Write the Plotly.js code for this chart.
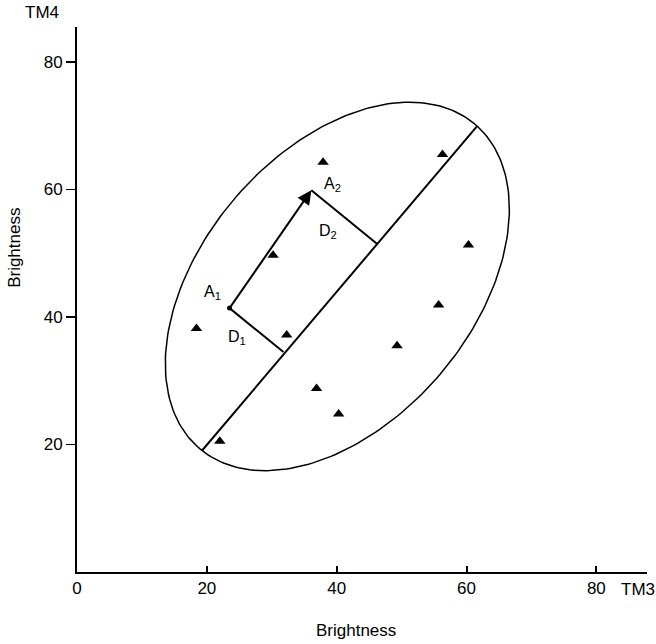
<!DOCTYPE html>
<html>
<head>
<meta charset="utf-8">
<script src="https://cdn.plot.ly/plotly-3.0.1.min.js"></script>
<style>html,body{margin:0;padding:0;background:#fff;}#chart{width:656px;height:644px;}</style>
</head>
<body>
<div id="chart"></div>
<script>
// ---- data ----
const tm3Values = [37.9, 30.2, 18.4, 32.3, 22.0, 36.9, 40.3, 49.3, 55.7, 60.3, 56.3];
const tm4Values = [64.3, 49.7, 38.2, 37.2, 20.5, 28.8, 24.8, 35.5, 41.9, 51.3, 65.5];
const pointA1 = [23.5, 41.4];
const pointA2 = [36.1, 59.9];
const axisStart = [19.3, 19.1];
const axisEnd = [61.6, 69.9];
const footD1 = [31.8, 34.5];
const footD2 = [46.2, 51.5];
const ellipseCenter = [40.1, 44.8];
const ellipseMajor = [21.2, 25.45];
const ellipseMinor = [-15.9, 13.7];
const xTicks = [0, 20, 40, 60, 80];
const yTicks = [20, 40, 60, 80];

// ellipse outline from its centre and semi-axis vectors
const ex = [], ey = [];
const N = 240;
for (let i = 0; i <= N; i++) {
  const t = 2 * Math.PI * i / N;
  ex.push(ellipseCenter[0] + ellipseMajor[0] * Math.cos(t) + ellipseMinor[0] * Math.sin(t));
  ey.push(ellipseCenter[1] + ellipseMajor[1] * Math.cos(t) + ellipseMinor[1] * Math.sin(t));
}

const FONT = 'Liberation Sans, Arial, Helvetica, sans-serif';

const traces = [
  {x: ex, y: ey, mode: 'lines', line: {color: '#000', width: 1.5}, hoverinfo: 'skip'},
  {x: [axisStart[0], axisEnd[0]], y: [axisStart[1], axisEnd[1]], mode: 'lines', line: {color: '#000', width: 2}},
  {x: [pointA1[0], footD1[0]], y: [pointA1[1], footD1[1]], mode: 'lines', line: {color: '#000', width: 2}},
  {x: [pointA2[0], footD2[0]], y: [pointA2[1], footD2[1]], mode: 'lines', line: {color: '#000', width: 2}},
  {x: [pointA1[0]], y: [pointA1[1]], mode: 'markers', marker: {symbol: 'circle', size: 5, color: '#000'}},
  {x: tm3Values, y: tm4Values, mode: 'markers', marker: {symbol: 'triangle-up', size: 10, color: '#000'}}
];

function segMid(a, b) { return [(a[0] + b[0]) / 2, (a[1] + b[1]) / 2]; }
const midD1 = segMid(pointA1, footD1);
const midD2 = segMid(pointA2, footD2);

const labelFont = {family: FONT, size: 16, color: '#000'};
const outerFont = {family: FONT, size: 17, color: '#000'};
const annotations = [
  {x: pointA2[0], y: pointA2[1], ax: pointA1[0], ay: pointA1[1], xref: 'x', yref: 'y', axref: 'x', ayref: 'y',
   text: '', showarrow: true, arrowhead: 2, arrowsize: 1.4, arrowwidth: 2, arrowcolor: '#000', standoff: 0},
  {x: pointA1[0], y: pointA1[1], xref: 'x', yref: 'y', text: 'A<sub>1</sub>', showarrow: false, xshift: -17, yshift: 16, font: labelFont},
  {x: pointA2[0], y: pointA2[1], xref: 'x', yref: 'y', text: 'A<sub>2</sub>', showarrow: false, xshift: 21, yshift: 6, font: labelFont},
  {x: midD1[0], y: midD1[1], xref: 'x', yref: 'y', text: 'D<sub>1</sub>', showarrow: false, xshift: -20, yshift: -7, font: labelFont},
  {x: midD2[0], y: midD2[1], xref: 'x', yref: 'y', text: 'D<sub>2</sub>', showarrow: false, xshift: -16, yshift: -15, font: labelFont},
  {x: -0.061, y: 1.026, xref: 'paper', yref: 'paper', xanchor: 'center', yanchor: 'middle', text: 'TM4', showarrow: false, font: outerFont},
  {x: 0.951, y: -0.033, xref: 'paper', yref: 'paper', xanchor: 'left', yanchor: 'middle', text: 'TM3', showarrow: false, font: outerFont},
  {x: 0.49, y: -0.108, xref: 'paper', yref: 'paper', xanchor: 'center', yanchor: 'middle', text: 'Brightness', showarrow: false, font: outerFont},
  {x: -0.109, y: 0.5945, xref: 'paper', yref: 'paper', xanchor: 'center', yanchor: 'middle', text: 'Brightness', textangle: -90, showarrow: false, font: outerFont}
];

const layout = {
  width: 656, height: 644,
  margin: {l: 77, r: 9, t: 27, b: 72, pad: 0},
  paper_bgcolor: '#fff', plot_bgcolor: '#fff',
  showlegend: false,
  font: {family: FONT, color: '#000'},
  xaxis: {
    range: [0, 87.8], tickvals: xTicks, ticktext: xTicks.map(String),
    ticks: 'inside', ticklen: 6, tickwidth: 2, tickcolor: '#000',
    showline: true, linewidth: 2, linecolor: '#000',
    showgrid: false, zeroline: false, fixedrange: true,
    tickfont: {family: FONT, size: 17, color: '#000'}
  },
  yaxis: {
    range: [0, 85.5], tickvals: yTicks, ticktext: yTicks.map(String),
    ticks: 'outside', ticklen: 9, tickwidth: 1.5, tickcolor: '#000',
    showline: true, linewidth: 2, linecolor: '#000',
    showgrid: false, zeroline: false, fixedrange: true,
    tickfont: {family: FONT, size: 17, color: '#000'}
  },
  annotations: annotations
};

Plotly.newPlot('chart', traces, layout, {staticPlot: true, displayModeBar: false});
</script>
</body>
</html>
